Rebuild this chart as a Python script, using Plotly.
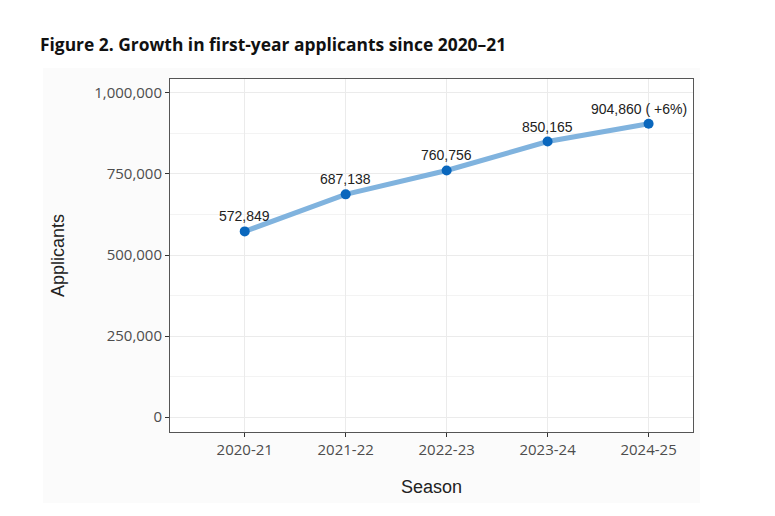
import plotly.graph_objects as go

seasons = ["2020-21", "2021-22", "2022-23", "2023-24", "2024-25"]
applicants = [572849, 687138, 760756, 850165, 904860]
point_labels = ["572,849", "687,138", "760,756", "850,165", "904,860 ( +6%)"]
label_xshift = [0, 0, 0, 0, -10]
y_tickvals = [0, 250000, 500000, 750000, 1000000]
y_ticktext = ["0", "250,000", "500,000", "750,000", "1,000,000"]

tick_font = dict(family="Open Sans, Noto Sans, sans-serif", size=15, color="#4d4d4d")
axis_title_font = dict(family="Liberation Sans, Arial, sans-serif", size=18, color="#222222")

fig = go.Figure()
fig.add_trace(go.Scatter(
    x=seasons, y=applicants, mode="lines",
    line=dict(color="#80b3de", width=5), hoverinfo="skip", showlegend=False,
))
fig.add_trace(go.Scatter(
    x=seasons, y=applicants, mode="markers",
    marker=dict(color="#0a67bd", size=10), showlegend=False,
))
for s, v, t, dx in zip(seasons, applicants, point_labels, label_xshift):
    fig.add_annotation(x=s, y=v, text=t, showarrow=False, yshift=15, xshift=dx,
                       font=dict(family="Liberation Sans, Arial, sans-serif", size=14, color="#222222"))

# white page margins around a very light grey chart card
white_strips = [
    (-1.0, 2.0, 1.0312, 2.0),
    (-1.0, 2.0, -1.0, -0.2011),
    (-1.0, -0.2428, -1.0, 2.0),
    (1.0134, 2.0, -1.0, 2.0),
]
for x0, x1, y0, y1 in white_strips:
    fig.add_shape(type="rect", xref="paper", yref="paper",
                  x0=x0, x1=x1, y0=y0, y1=y1,
                  fillcolor="white", line=dict(width=0), layer="below")

fig.update_layout(
    width=775, height=516,
    margin=dict(l=162, r=90, t=71, b=92),
    paper_bgcolor="#fbfbfb", plot_bgcolor="white",
    title=dict(text="<b>Figure 2. Growth in first-year applicants since 2020–21</b>",
               x=32/775, xanchor="left", y=1-37/516, yanchor="middle",
               font=dict(family="Open Sans, Noto Sans, sans-serif", size=17.4, color="#111111")),
    xaxis=dict(
        type="category", range=[-0.74, 4.44],
        showgrid=True, gridcolor="#ebebeb", gridwidth=1,
        showline=True, linecolor="#555555", linewidth=1, mirror=True,
        ticks="outside", ticklen=4, tickcolor="#333333",
        tickfont=tick_font,
        title=dict(text="Season", font=axis_title_font, standoff=22),
    ),
    yaxis=dict(
        range=[-46000, 1043000],
        tickvals=y_tickvals, ticktext=y_ticktext,
        showgrid=True, gridcolor="#ebebeb", gridwidth=1,
        minor=dict(dtick=125000, tick0=125000, showgrid=True, gridcolor="#f3f3f3", gridwidth=1),
        zeroline=False,
        showline=True, linecolor="#555555", linewidth=1, mirror=True,
        ticks="outside", ticklen=4, tickcolor="#333333",
        tickfont=tick_font,
        title=dict(text="Applicants", font=axis_title_font, standoff=24),
    ),
)

fig.write_html("out.html")
